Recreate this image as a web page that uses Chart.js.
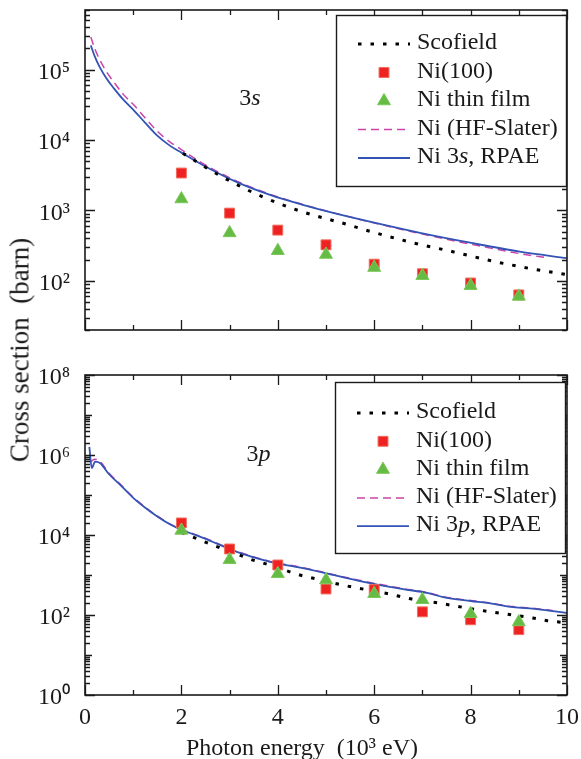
<!DOCTYPE html>
<html><head><meta charset="utf-8">
<script src="https://cdn.jsdelivr.net/npm/chart.js@4.4.0/dist/chart.umd.min.js"></script>
<style>
html,body{margin:0;padding:0;background:#fff;}
#wrap{position:relative;width:581px;height:759px;overflow:hidden;font-family:'Liberation Serif','Times New Roman',serif;}
canvas{position:absolute;left:0;}
#ytitle{position:absolute;left:20px;top:350px;transform:translate(-50%,-50%) rotate(-90deg);white-space:pre;font-size:27px;color:#1a1a1a;line-height:1;}
</style></head><body>
<div id="wrap">
<canvas id="c1" width="581" height="345" style="top:0"></canvas>
<canvas id="c2" width="581" height="423" style="top:340px"></canvas>
<div id="ytitle">Cross section  (barn)</div>
</div>
<script>
const FONT = "'Liberation Serif','Times New Roman',serif";
const INK = '#1a1a1a';

// ---- data (photon energy in 10^3 eV, cross section in barn) ----
const expEnergy = [2, 3, 4, 5, 6, 7, 8, 9];
const legend3s = ['Scofield', 'Ni(100)', 'Ni thin film', 'Ni (HF-Slater)', 'Ni 3*s*, RPAE'];
const legend3p = ['Scofield', 'Ni(100)', 'Ni thin film', 'Ni (HF-Slater)', 'Ni 3*p*, RPAE'];
const xTickLabels = ['0', '2', '4', '6', '8', '10'];

// 3s panel
const s3Ni100 = [3390, 914, 524, 324, 172, 126, 93, 63];
const s3Film = [1450, 478, 267, 236, 154, 118, 85, 60];
const s3ScofieldE = [2.03, 2.86, 3.69, 4.52, 5.39, 5.95, 6.80, 7.63, 8.46, 9.29, 10];
const s3Scofield = [6460, 2950, 1550, 950, 645, 496, 347, 259, 190, 147, 122];
const s3RpaeE = [0.12, 0.2, 0.3, 0.45, 0.6, 0.8, 1.0, 1.25, 1.5, 1.76, 2.0, 2.45, 3.15, 3.84, 4.52, 5.23, 5.91, 6.95, 7.99, 9.02, 10];
const s3Rpae = [220000, 155000, 110000, 74000, 54000, 37000, 27000, 17500, 11500, 8300, 6600, 4380, 2520, 1660, 1200, 890, 690, 479, 347, 259, 210];
const s3HfE = [0.12, 0.2, 0.3, 0.45, 0.6, 0.8, 1.0, 1.25, 1.5, 1.76, 2.0, 2.45, 3.15, 3.84, 4.52, 5.23, 5.91, 6.95, 7.99, 9.02, 9.6];
const s3Hf = [290000, 200000, 140000, 92000, 66000, 44000, 32000, 20500, 13300, 9400, 7300, 4600, 2600, 1690, 1210, 895, 685, 468, 332, 243, 212];

// 3p panel
const p3Ni100 = [20000, 4470, 1780, 447, 430, 120, 76, 43];
const p3Film = [13000, 2400, 1070, 750, 340, 240, 107, 67];
const p3ScofieldE = [2.0, 2.28, 2.59, 2.86, 3.15, 3.42, 3.69, 4.25, 4.52, 4.81, 5.35, 5.66, 6.22, 6.78, 7.32, 7.93, 8.44, 8.76, 9.29, 9.59, 10];
const p3Scofield = [11500, 8460, 6000, 4470, 3370, 2500, 2000, 1200, 950, 790, 560, 470, 355, 250, 200, 149, 119, 105, 84, 72, 64];
const p3RpaeE = [0.09, 0.14, 0.21, 0.31, 0.5, 0.73, 1.0, 1.25, 1.5, 1.76, 2.0, 2.45, 3.15, 3.84, 4.52, 5.23, 5.91, 6.6, 7.1, 7.43, 8.0, 8.34, 8.88, 9.38, 10];
const p3Rpae = [1600000, 470000, 680000, 630000, 330000, 180000, 85000, 48000, 29000, 18500, 13500, 8500, 3800, 2130, 1490, 950, 630, 445, 355, 280, 224, 200, 158, 141, 112];
const p3HfE = [0.1, 0.2, 0.31, 0.5, 0.73, 1.0, 1.25, 1.5, 1.76, 2.0, 2.45, 3.15, 3.84, 4.52, 5.23, 5.91, 6.6, 7.1, 7.43, 8.0, 8.34, 8.88, 9.38, 9.7];
const p3Hf = [650000, 780000, 700000, 350000, 188000, 88000, 49500, 30000, 19000, 13900, 8750, 3900, 2190, 1530, 975, 650, 458, 365, 288, 230, 205, 162, 144, 130];

const pts = (xs, ys) => xs.map((x, i) => ({x: x, y: ys[i]}));
const SUP = {'0':'\u2070','1':'\u00b9','2':'\u00b2','3':'\u00b3','4':'\u2074','5':'\u2075','6':'\u2076','7':'\u2077','8':'\u2078','9':'\u2079'};

function makeDatasets(scE, sc, ni, film, hfE, hf, rpE, rp, labels) {
  return [
    {label: labels[0], data: pts(scE, sc), borderColor: '#000', borderWidth: 3, borderDash: [3.5, 9],
     pointRadius: 0, cubicInterpolationMode: 'monotone', fill: false, order: 2},
    {label: labels[1], data: pts(expEnergy, ni), showLine: false, pointStyle: 'rect', pointRadius: 7,
     backgroundColor: '#ee2222', borderColor: '#f26a5a', borderWidth: 1, order: 1},
    {label: labels[2], data: pts(expEnergy, film), showLine: false, pointStyle: 'triangle', pointRadius: 7.5,
     backgroundColor: '#66bb44', borderColor: '#7cc85c', borderWidth: 1, order: 0},
    {label: labels[3], data: pts(hfE, hf), borderColor: '#cc44aa', borderWidth: 1.5, borderDash: [8, 5],
     pointRadius: 0, cubicInterpolationMode: 'monotone', fill: false, order: 4},
    {label: labels[4], data: pts(rpE, rp), borderColor: '#3353b5', borderWidth: 1.8,
     pointRadius: 0, cubicInterpolationMode: 'monotone', fill: false, order: 3}
  ];
}

function drawRich(ctx, text, x, y, size) {
  const parts = text.split('*');
  let cx = x;
  parts.forEach((p, i) => {
    ctx.font = (i % 2 ? 'italic ' : '') + size + 'px ' + FONT;
    ctx.fillText(p, cx, y);
    cx += ctx.measureText(p).width;
  });
  return cx - x;
}

const decorPlugin = {
  id: 'panelDecor',
  afterDatasetsDraw(chart, args, opts) {
    const ctx = chart.ctx, ca = chart.chartArea, xs = chart.scales.x, ys = chart.scales.y;
    ctx.save();
    ctx.strokeStyle = INK;
    ctx.lineWidth = 1.3;
    ctx.setLineDash([]);
    ctx.beginPath();
    for (let v = 0; v <= 10; v++) {
      const px = Math.round(xs.getPixelForValue(v)) + 0.5;
      const len = v % 2 === 0 ? 10 : 5;
      ctx.moveTo(px, ca.bottom); ctx.lineTo(px, ca.bottom - len);
      ctx.moveTo(px, ca.top); ctx.lineTo(px, ca.top + len);
    }
    const dmin = Math.floor(Math.log10(ys.min)), dmax = Math.ceil(Math.log10(ys.max));
    for (let d = dmin; d <= dmax; d++) {
      for (let m = 1; m <= 9; m++) {
        const v = m * Math.pow(10, d);
        if (v < ys.min * 0.999 || v > ys.max * 1.001) continue;
        const py = Math.round(ys.getPixelForValue(v)) + 0.5;
        let len = 5;
        if (m === 1) len = opts.altDecades ? (d % 2 === 0 ? 10 : 7) : 10;
        ctx.moveTo(ca.left, py); ctx.lineTo(ca.left + len, py);
        ctx.moveTo(ca.right, py); ctx.lineTo(ca.right - len, py);
      }
    }
    ctx.stroke();
    ctx.lineWidth = 1.6;
    ctx.strokeRect(ca.left, ca.top, ca.right - ca.left, ca.bottom - ca.top);

    // annotation (3s / 3p)
    const n = opts.note;
    ctx.fillStyle = INK;
    ctx.textBaseline = 'middle';
    const nx = xs.getPixelForValue(n.x), ny = ys.getPixelForValue(n.y);
    ctx.font = '24px ' + FONT;
    const w1 = ctx.measureText(n.main).width;
    ctx.font = 'italic 24px ' + FONT;
    const w2 = ctx.measureText(n.ital).width;
    drawRich(ctx, n.main + '*' + n.ital + '*', nx - (w1 + w2) / 2, ny, 24);

    // legend box
    const L = opts.box;
    const bx = ca.right - L.w - L.dr, by = ca.top + L.dy;
    ctx.fillStyle = '#fff';
    ctx.fillRect(bx, by, L.w, L.h);
    ctx.strokeStyle = INK;
    ctx.lineWidth = 1.4;
    ctx.strokeRect(bx + 0.5, by + 0.5, L.w, L.h);
    const dsets = chart.data.datasets;
    opts.labels.forEach((lab, i) => {
      const ds = dsets[i];
      const yy = by + L.first + i * L.step;
      const x1 = bx + 22, x2 = bx + 74;
      ctx.save();
      if (ds.showLine === false) {
        ctx.fillStyle = ds.backgroundColor;
        ctx.strokeStyle = ds.borderColor;
        ctx.lineWidth = ds.borderWidth;
        Chart.helpers.drawPoint(ctx, {pointStyle: ds.pointStyle, radius: ds.pointRadius, borderWidth: ds.borderWidth, rotation: 0}, (x1 + x2) / 2, yy);
      } else {
        ctx.strokeStyle = ds.borderColor;
        ctx.lineWidth = ds.borderWidth;
        ctx.setLineDash(ds.borderDash || []);
        ctx.beginPath(); ctx.moveTo(x1, yy); ctx.lineTo(x2, yy); ctx.stroke();
      }
      ctx.restore();
      ctx.fillStyle = INK;
      ctx.textBaseline = 'middle';
      drawRich(ctx, lab, bx + 81, yy - 1, 24);
    });
    ctx.restore();
  }
};

function yTick(value) {
  const l = Math.log10(value), r = Math.round(l);
  if (Math.abs(l - r) > 1e-6) return '';
  if (this.chart.options.plugins.panelDecor.altDecades && r % 2 !== 0) return '';
  return '10' + String(r).split('').map(c => SUP[c]).join('');
}

function makeChart(id, cfg) {
  return new Chart(document.getElementById(id), {
    type: 'line',
    data: {datasets: cfg.datasets},
    options: {
      responsive: false, animation: false, devicePixelRatio: 1,
      layout: {padding: cfg.padding},
      plugins: {legend: {display: false}, tooltip: {enabled: false}, panelDecor: cfg.decor},
      scales: {
        x: {
          type: 'linear', min: 0, max: 10, display: cfg.showX,
          afterFit: s => { if (cfg.showX) s.height = 68; s.paddingLeft = 0; s.paddingRight = 0; },
          grid: {display: false}, border: {display: false},
          afterBuildTicks: s => { s.ticks = xTickLabels.map(t => ({value: Number(t)})); },
          ticks: {color: INK, font: {family: FONT, size: 24}, padding: 0, autoSkip: false, maxRotation: 0,
                  callback: v => String(v)},
          title: {display: cfg.showX, text: 'Photon energy  (10\u00b3 eV)' + '\u00a0'.repeat(8), color: INK,
                  font: {family: FONT, size: 24}, padding: {top: 0, bottom: 0}}
        },
        y: {
          type: 'logarithmic', min: cfg.ymin, max: cfg.ymax,
          afterFit: s => { s.width = 85; s.paddingTop = 0; s.paddingBottom = 0; },
          grid: {display: false}, border: {display: false},
          ticks: {color: INK, font: {family: FONT, size: 24}, padding: 7, labelOffset: 3, autoSkip: false, callback: yTick}
        }
      }
    },
    plugins: [decorPlugin]
  });
}

makeChart('c1', {
  datasets: makeDatasets(s3ScofieldE, s3Scofield, s3Ni100, s3Film, s3HfE, s3Hf, s3RpaeE, s3Rpae, legend3s),
  padding: {top: 10, right: 14, bottom: 15, left: 0},
  showX: false, ymin: 20, ymax: 700000,
  decor: {altDecades: false, labels: legend3s, note: {x: 3.42, y: 38000, main: '3', ital: 's'},
          box: {w: 230, h: 171, dr: 1, dy: 5, first: 29, step: 28.5}}
});
makeChart('c2', {
  datasets: makeDatasets(p3ScofieldE, p3Scofield, p3Ni100, p3Film, p3HfE, p3Hf, p3RpaeE, p3Rpae, legend3p),
  padding: {top: 35, right: 14, bottom: 0, left: 0},
  showX: true, ymin: 1, ymax: 100000000,
  decor: {altDecades: true, labels: legend3p, note: {x: 3.6, y: 1000000, main: '3', ital: 'p'},
          box: {w: 230, h: 171, dr: 2, dy: 7, first: 31, step: 28.3}}
});
</script>
</body></html>
